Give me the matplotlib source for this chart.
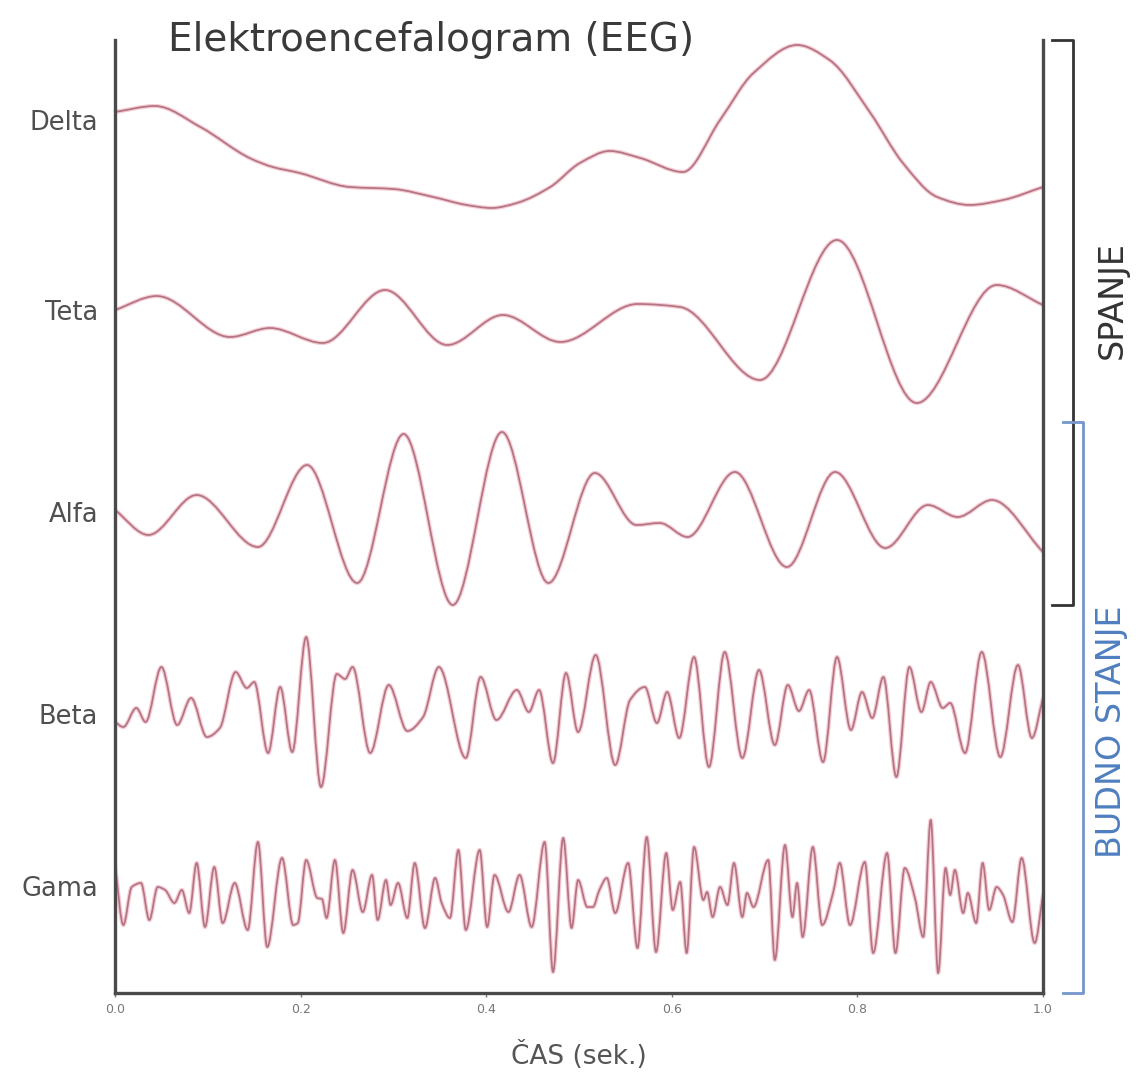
import numpy as np
import matplotlib
matplotlib.use("Agg")
import matplotlib.pyplot as plt
from matplotlib.path import Path
from matplotlib.patches import PathPatch
from matplotlib.lines import Line2D

plt.rcParams['font.family'] = ['DejaVu Sans']

# ---------------- data (time in s, amplitude in arbitrary units) ----------------
bands = ["Delta", "Teta", "Alfa", "Beta", "Gama"]

delta_t = [0.000, 0.043, 0.092, 0.145, 0.170, 0.199, 0.253, 0.300, 0.343, 0.379,
           0.406, 0.433, 0.469, 0.501, 0.533, 0.566, 0.612, 0.652, 0.688, 0.735,
           0.770, 0.814, 0.849, 0.886, 0.921, 0.957, 1.000]
delta_v = [8, 14, -7, -38, -47, -53, -67, -69, -77, -85,
           -88, -83, -67, -43, -31, -38, -52, 0, 47, 75,
           60, 7, -43, -77, -85, -80, -67]

teta_t = [0.000, 0.045, 0.124, 0.167, 0.224, 0.291, 0.358, 0.418, 0.480, 0.563,
          0.609, 0.695, 0.778, 0.864, 0.950, 1.000]
teta_v = [0, 14, -27, -18, -33, 20, -35, -5, -32, 6,
          3, -70, 70, -93, 25, 5]

alfa_t = [0.000, 0.036, 0.088, 0.154, 0.207, 0.261, 0.311, 0.364, 0.417, 0.467,
          0.517, 0.562, 0.587, 0.617, 0.668, 0.724, 0.776, 0.830, 0.876, 0.908,
          0.945, 1.000]
alfa_v = [2, -23, 17, -35, 47, -71, 78, -93, 80, -71,
          39, -13, -11, -25, 40, -55, 40, -36, 7, -5,
          12, -40]

beta_t = [0.000, 0.009, 0.023, 0.033, 0.050, 0.067, 0.082, 0.099, 0.113, 0.130,
          0.142, 0.150, 0.165, 0.178, 0.191, 0.206, 0.222, 0.239, 0.248, 0.256,
          0.275, 0.295, 0.315, 0.332, 0.349, 0.378, 0.394, 0.411, 0.433, 0.446,
          0.457, 0.472, 0.486, 0.499, 0.518, 0.539, 0.555, 0.571, 0.584, 0.595,
          0.608, 0.624, 0.640, 0.657, 0.676, 0.694, 0.711, 0.725, 0.737, 0.748,
          0.763, 0.778, 0.793, 0.805, 0.816, 0.828, 0.842, 0.856, 0.869, 0.879,
          0.892, 0.900, 0.916, 0.934, 0.954, 0.973, 0.988, 1.000]
beta_v = [-8, -13, 6, -8, 47, -11, 16, -23, -14, 42,
          26, 32, -39, 27, -38, 77, -73, 40, 35, 47,
          -39, 29, -17, -3, 47, -44, 37, -6, 24, 2,
          24, -49, 41, -18, 59, -51, 14, 27, -9, 22,
          -24, 57, -53, 62, -44, 44, -31, 29, 3, 24,
          -48, 57, -16, 22, -4, 37, -63, 47, 2, 32,
          6, 11, -39, 62, -43, 49, -24, 16]

gama_t = [0.000, 0.009, 0.018, 0.028, 0.037, 0.046, 0.054, 0.064, 0.072, 0.080,
          0.088, 0.097, 0.107, 0.116, 0.129, 0.143, 0.154, 0.164, 0.180, 0.192,
          0.197, 0.206, 0.218, 0.223, 0.228, 0.237, 0.246, 0.256, 0.267, 0.277,
          0.283, 0.292, 0.297, 0.305, 0.315, 0.323, 0.334, 0.345, 0.352, 0.361,
          0.370, 0.378, 0.393, 0.401, 0.409, 0.424, 0.436, 0.449, 0.463, 0.472,
          0.483, 0.492, 0.499, 0.509, 0.515, 0.522, 0.530, 0.539, 0.553, 0.563,
          0.573, 0.583, 0.594, 0.601, 0.609, 0.616, 0.624, 0.634, 0.638, 0.644,
          0.652, 0.660, 0.667, 0.676, 0.681, 0.688, 0.704, 0.711, 0.722, 0.730,
          0.735, 0.741, 0.752, 0.762, 0.774, 0.781, 0.792, 0.808, 0.817, 0.832,
          0.841, 0.851, 0.862, 0.871, 0.879, 0.887, 0.895, 0.900, 0.905, 0.914,
          0.919, 0.928, 0.935, 0.942, 0.950, 0.957, 0.967, 0.977, 0.991, 1.000]
gama_v = [21, -39, -1, 3, -34, -1, -4, -17, -4, -27,
          23, -41, 19, -37, 3, -44, 44, -61, 28, -39,
          -37, 26, -12, -13, -32, 26, -47, 16, -26, 11,
          -34, 6, -19, 3, -32, 23, -42, 8, -17, -32,
          36, -44, 36, -41, 11, -26, 11, -41, 44, -86,
          48, -42, 6, -21, -21, -4, 8, -27, 23, -62,
          49, -66, 33, -24, 4, -67, 39, -14, -6, -31,
          -1, -19, 23, -31, -7, -21, 26, -74, 41, -31,
          3, -51, 39, -39, -6, 23, -39, 24, -67, 33,
          -67, 18, -12, -51, 66, -87, 18, -9, 16, -27,
          -7, -37, 23, -24, -1, -9, -36, 28, -57, -9]

x_ticks = [0.0, 0.2, 0.4, 0.6, 0.8, 1.0]
x_tick_labels = ["0.0", "0.2", "0.4", "0.6", "0.8", "1.0"]

# ---------------- layout ----------------
W, H = 1139, 1077
baselines = [873, 683, 481, 279, 107]   # vertical position of each trace


def smooth_path(t, v, off):
    """Cubic Hermite curve through the read points, drawn as Bezier segments."""
    x = np.asarray(t, float)
    y = np.asarray(v, float) + off
    h = np.diff(x)
    d = np.diff(y) / h
    n = len(x)
    m = np.zeros(n)
    m[0], m[-1] = d[0], d[-1]
    for i in range(1, n - 1):
        if d[i - 1] * d[i] > 0:
            m[i] = 2.0 / (1.0 / d[i - 1] + 1.0 / d[i])
    verts = [(x[0], y[0])]
    codes = [Path.MOVETO]
    for i in range(n - 1):
        verts += [(x[i] + h[i] / 3, y[i] + m[i] * h[i] / 3),
                  (x[i + 1] - h[i] / 3, y[i + 1] - m[i + 1] * h[i] / 3),
                  (x[i + 1], y[i + 1])]
        codes += [Path.CURVE4] * 3
    return Path(verts, codes)


fig = plt.figure(figsize=(W / 100, H / 100), dpi=100)
ax = fig.add_axes([115 / W, 1 - 993 / H, 928 / W, 953 / H])
ax.set_xlim(0, 1)
ax.set_ylim(0, 953)

series = [(delta_t, delta_v), (teta_t, teta_v), (alfa_t, alfa_v),
          (beta_t, beta_v), (gama_t, gama_v)]
for (t, v), off in zip(series, baselines):
    p = smooth_path(t, v, off)
    ax.add_patch(PathPatch(p, fill=False, edgecolor='#f4b4c1', lw=3.0,
                           alpha=0.7, capstyle='round', joinstyle='round'))
    ax.add_patch(PathPatch(p, fill=False, edgecolor='#b27583', lw=1.25,
                           capstyle='round', joinstyle='round'))

for s in ['left', 'right', 'bottom']:
    ax.spines[s].set_color('#4a4a4a')
    ax.spines[s].set_linewidth(2.4)
ax.spines['top'].set_visible(False)

ax.set_yticks(baselines)
ax.set_yticklabels(bands, fontsize=18.5, color='#505050')
ax.tick_params(axis='y', length=0, pad=12)
ax.set_xticks(x_ticks)
ax.set_xticklabels(x_tick_labels, fontsize=9, color='#777777')
ax.tick_params(axis='x', length=3, width=1, color='#777777', pad=4)
ax.set_xlabel("ČAS (sek.)", fontsize=19, color='#555555', labelpad=18)

fig.text(168 / W, 1 - 40 / H, "Elektroencefalogram (EEG)", fontsize=28,
         color='#3a3a3a', ha='left', va='center')


def fx(px):
    return px / W


def fy(py):
    return 1 - py / H


# sleep bracket (black)
fig.add_artist(Line2D([fx(1052), fx(1073), fx(1073), fx(1052)],
                      [fy(40), fy(40), fy(605), fy(605)],
                      color='#333333', lw=2.0))
# awake bracket (blue)
fig.add_artist(Line2D([fx(1063), fx(1083), fx(1083), fx(1063)],
                      [fy(422), fy(422), fy(993), fy(993)],
                      color='#7396cc', lw=2.0))

fig.text(fx(1112), fy(300), "SPANJE", rotation=90, fontsize=24,
         color='#333333', ha='center', va='center')
fig.text(fx(1112), fy(732), "BUDNO STANJE", rotation=90, fontsize=24,
         color='#4f7fc0', ha='center', va='center')

fig.savefig("out.png", dpi=100, facecolor='white')
